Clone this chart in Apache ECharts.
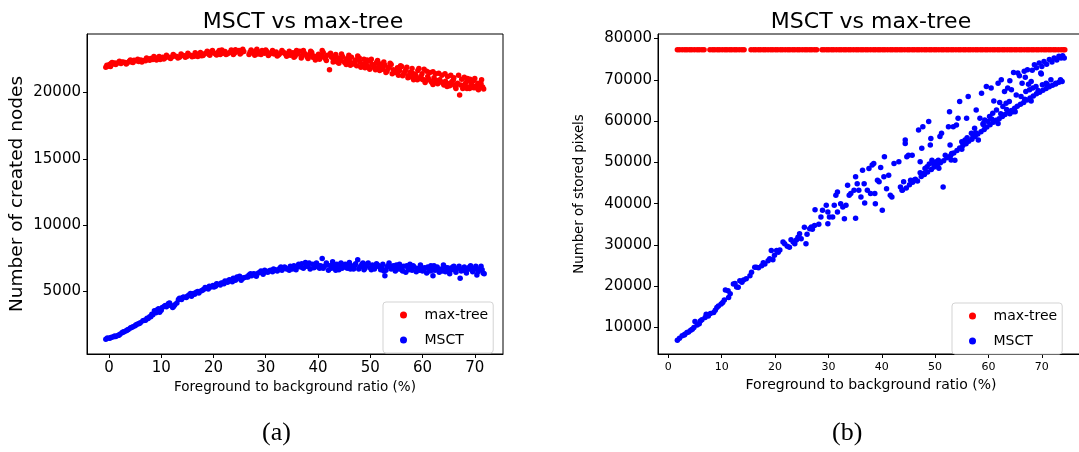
<!DOCTYPE html>
<html>
<head>
<meta charset="utf-8">
<title>MSCT vs max-tree</title>
<script src="https://cdn.jsdelivr.net/npm/echarts@6/dist/echarts.min.js"></script>
<style>
  html, body { margin: 0; padding: 0; overflow: hidden; background: #fff; }
  #chart { width: 1100px; height: 452px; }
</style>
</head>
<body>
<div id="chart"></div>
<script>
// (a) number of created nodes, [ratio %, nodes]
const maxTreeNodes = [
  [-0.6,21900],[-0.4,22050],[-0.2,21980],[0.1,22100],[0.4,22180],[0.8,22150],[1.1,22220],[1.5,22200],[1.9,22250],[2.3,22180],
  [2.7,22300],[3.1,22260],[3.5,22220],[3.9,22350],[4.3,22300],[4.8,22420],[5.2,22380],[5.7,22330],[6.1,22450],[6.6,22400],
  [7.0,22380],[7.5,22500],[8.0,22560],[8.4,22480],[8.9,22600],[9.3,22550],[9.8,22480],[10.3,22640],[10.7,22600],[11.2,22700],
  [11.6,22620],[12.1,22680],[12.6,22750],[13.0,22700],[13.5,22650],[14.0,22800],[14.4,22760],[14.9,22700],[15.4,22820],[15.8,22780],
  [16.3,22720],[16.8,22880],[17.2,22820],[17.7,22760],[18.2,22900],[18.6,22960],[19.1,22880],[19.5,23050],[20.0,22980],[20.4,22900],
  [20.9,23020],[21.3,22860],[21.8,22950],[22.2,23080],[22.7,22920],[23.1,23000],[23.6,23120],[24.0,22950],[24.5,23060],[24.9,23150],
  [25.3,22980],[25.8,23080],[26.8,22850],[27.2,23200],[27.6,22950],[28.0,23100],[28.5,22900],[28.9,23050],[29.3,23150],[29.8,22950],
  [30.2,23080],[30.7,22880],[31.1,23000],[31.6,22900],[32.0,23050],[32.5,22830],[32.9,22960],[33.4,23020],[33.8,22880],[34.3,22950],
  [34.7,22800],[35.2,22980],[35.6,22720],[36.1,22900],[36.5,23100],[37.0,22780],[37.4,22950],[37.9,22680],[38.3,22850],[38.8,23000],
  [39.2,22750],[39.7,22600],[40.1,22880],[40.6,22700],[41.0,23000],[41.4,22550],[41.8,22800],[42.2,21700],[42.6,22650],[43.0,22450],
  [43.4,22850],[43.9,22600],[44.3,22400],[44.7,22700],[45.1,22250],[45.6,22550],[46.0,22350],[46.4,22650],[46.8,22150],[47.2,22450],
  [47.6,22750],[48.0,22300],[48.4,22050],[48.8,22500],[49.2,22200],[49.6,21950],[50.0,22350],[50.4,22100],[50.8,21850],[51.2,22250],
  [51.6,21950],[52.0,22150],[52.4,21750],[52.8,22050],[53.2,21600],[53.6,21900],[54.0,22100],[54.4,21700],[54.8,21500],[55.2,21850],
  [55.6,21650],[56.0,21950],[56.4,21400],[56.8,21700],[57.2,21100],[57.6,21500],[58.0,21800],[58.3,20950],[58.7,21300],[59.1,21650],
  [59.5,21050],[59.9,21400],[60.3,21750],[60.6,20900],[61.0,21200],[61.4,21500],[61.8,20750],[62.2,21100],[62.5,21400],[62.9,20650],
  [63.3,20950],[63.7,21300],[64.1,20550],[64.4,20850],[64.8,21200],[65.2,20500],[65.6,20800],[66.0,21100],[66.3,20400],[66.7,20700],
  [67.1,19800],[67.5,21000],[67.9,20450],[68.3,20750],[68.6,21050],[69.0,20300],[69.4,20600],[69.8,20900],[70.2,20350],[70.6,20700],
  [71.0,20450],[71.3,20950],[71.7,20250],
  [50.6,22000],[52.2,21900],[53.4,21800],[55.0,21650],[56.6,21550],[58.5,21350],[59.7,21200],[61.2,21000],[62.7,20900],[64.6,20700],
  [66.5,20600],[68.1,20600],[69.6,20500],[70.8,20550],[57.9,21200],[60.0,21000],[63.5,20800],[65.9,20950],[67.7,20300],[69.2,20800],
  [43.7,22300],[45.3,22400],[47.0,22300],[48.7,22150],[41.2,22650],[39.0,22650],
  [0.3,21950],[0.6,22250],[1.3,22100],[2.0,22350],[2.5,22280],[3.3,22150],[4.1,22450],[4.6,22250],[5.5,22500],[6.3,22300],
  [7.2,22600],[7.8,22420],[8.6,22700],[9.1,22450],[9.6,22700],[10.5,22520],[11.0,22800],[11.8,22560],[12.3,22850],[13.2,22600],
  [13.8,22900],[14.6,22650],[15.1,22950],[15.9,22680],[16.5,22980],[17.0,22700],[17.5,23000],[18.0,22780],[18.8,23100],[19.3,22800],
  [19.8,23150],[20.6,22820],[21.1,23150],[21.6,23200],[22.4,22850],[23.4,23200],[23.8,22850],[24.2,23220],[25.1,22900],[25.6,23250],
  [27.0,23050],[27.9,22800],[28.3,23250],[29.1,22850],[30.0,23200],[30.5,22780],[31.3,23150],[32.2,22750],[33.1,23150],[34.0,22720],
  [34.5,23100],[35.4,22650],[35.9,23150],[36.8,22600],[37.2,23150],[38.1,22550],[38.6,23100],[39.5,22450],[40.3,22500],[40.8,23150],
  [41.6,22400],[42.4,22950],[42.9,22300],[43.2,22700],[44.0,22200],[44.5,22900],[45.4,22100],[45.9,22800],[46.2,22050],[47.4,22000],
  [47.9,22600],[48.2,21900],[49.0,21850],[49.4,22450],[49.9,21750],[50.2,22500],[51.0,21700],[51.4,22400],[51.8,21650],[52.6,22300],
  [53.0,21500],[53.8,22200],[54.2,21400],[55.4,21300],[55.8,22000],[56.2,21250],[57.0,21900],[57.4,21150],[58.1,21450],[58.9,21100],
  [59.3,21800],[60.1,20950],[60.8,21600],[61.6,20850],[62.0,21550],[62.4,20750],[63.1,21450],[63.9,20700],[64.3,21400],[65.0,20650],
  [65.4,21300],[66.1,20550],[66.9,21300],[67.3,20550],[68.0,21150],[68.8,20400],[69.1,21000],[69.8,20350],[70.0,21050],[70.4,20500],
  [71.2,20650],[71.5,20400],[70.7,20200],[68.5,20300],[66.4,20300],[64.7,20450],[62.0,20600],[60.5,20750],[59.0,20950],[57.3,21250]
];
const msctNodes = [
  [-0.6,1420],[-0.3,1500],[0.1,1480],[0.5,1560],[0.9,1600],[1.3,1620],[1.7,1700],[2.1,1780],[2.5,1900],[2.9,1980],
  [3.3,2050],[3.7,2150],[4.1,2250],[4.6,2350],[5.0,2420],[5.5,2550],[6.0,2650],[6.5,2800],[7.0,2850],[7.5,2980],
  [8.0,3100],[8.4,3250],[8.7,3550],[9.0,3400],[9.3,3650],[9.7,3450],[10.2,3800],[10.6,3900],[11.0,3850],[11.4,4100],
  [11.8,3950],[12.2,3800],[12.6,4000],[13.0,4150],[13.5,4500],[13.9,4400],[14.3,4600],[14.8,4550],[15.3,4750],[15.8,4650],
  [16.2,4850],[16.7,4950],[17.2,4900],[17.6,5050],[18.1,5150],[18.6,5250],[19.0,5200],[19.5,5350],[19.9,5450],[20.4,5400],
  [20.8,5550],[21.3,5500],[21.8,5650],[22.2,5800],[22.7,5700],[23.1,5900],[23.6,5750],[24.0,5950],[24.5,6100],[24.9,6000],
  [25.3,5850],[25.8,6050],[26.3,6100],[26.8,6250],[27.3,6200],[27.7,6350],[28.2,6150],[28.6,6400],[29.1,6550],[29.5,6300],
  [30.0,6500],[30.4,6450],[30.9,6600],[31.3,6500],[31.8,6650],[32.2,6550],[32.7,6750],[33.1,6600],[33.6,6850],[34.0,6700],
  [34.5,6600],[34.9,6800],[35.4,6950],[35.8,6650],[36.3,7050],[36.7,6850],[37.2,6750],[37.6,7200],[38.1,6900],[38.5,6700],
  [39.0,7050],[39.4,6850],[39.9,7000],[40.3,6750],[40.8,7500],[41.2,6900],[41.6,7150],[42.0,6600],[42.4,6950],[42.8,7250],
  [43.2,6800],[43.6,7050],[44.0,6650],[44.4,7150],[44.8,6900],[45.2,7050],[45.6,6750],[46.0,7200],[46.4,6950],[46.8,6700],
  [47.2,7100],[47.6,7400],[48.0,6850],[48.4,7050],[48.8,6650],[49.2,6950],[49.6,7150],[50.0,6800],[50.4,7000],[50.8,6700],
  [51.2,7100],[51.6,6900],[52.0,6650],[52.4,7050],[52.8,6200],[53.2,6850],[53.6,7150],[54.0,6700],[54.4,6950],[54.8,6550],
  [55.2,6850],[55.6,7050],[56.0,6650],[56.4,6900],[56.8,6450],[57.2,6800],[57.6,7050],[58.0,6600],[58.4,6850],[58.8,6500],
  [59.2,6750],[59.6,7000],[60.0,6550],[60.4,6800],[60.8,6400],[61.2,6700],[61.6,6950],[62.0,6200],[62.4,6600],[62.8,6850],
  [63.2,6450],[63.6,6700],[64.0,7000],[64.4,6500],[64.8,6800],[65.2,6350],[65.6,6650],[66.0,6900],[66.4,6450],[66.8,6750],
  [67.2,6000],[67.6,6600],[68.0,6850],[68.4,6400],[68.8,6700],[69.2,6950],[69.6,6500],[70.0,6750],[70.4,6250],[70.8,6600],
  [71.2,6900],[71.6,6400],
  [45.0,6850],[48.2,6900],[50.6,6850],[53.0,6600],[55.4,6700],[57.4,6650],[59.4,6600],[61.4,6550],[63.4,6600],[65.4,6750],
  [67.4,6550],[69.4,6650],[71.0,6700],[43.8,6900],[46.6,6850],
  [0.3,1520],[1.1,1650],[1.9,1720],[2.7,1950],[3.5,2100],[4.3,2300],[5.2,2500],[5.8,2600],[6.8,2850],[7.3,3000],
  [7.8,3100],[8.2,3300],[8.9,3500],[9.5,3700],[10.0,3600],[10.8,3950],[11.6,4150],[12.4,3900],[13.3,4400],[14.1,4550],
  [15.0,4650],[15.6,4850],[16.4,4800],[17.0,5000],[17.9,5100],[18.4,5300],[19.2,5400],[20.1,5350],[20.6,5600],[21.5,5650],
  [22.0,5600],[22.9,5850],[23.8,6000],[24.2,5850],[25.0,6150],[25.6,6000],[26.6,6100],[27.1,6350],[28.0,6300],[28.9,6450],
  [29.8,6600],[30.6,6550],[31.5,6700],[32.4,6650],[32.9,6850],[33.8,6750],[34.7,6900],[35.1,6700],[36.0,6850],[36.9,7100],
  [37.8,6900],[38.3,7150],[39.2,6800],[39.7,7150],[40.5,6950],[41.0,6750],[41.8,7000],[42.6,6750],[43.0,7050],[43.4,6600],
  [44.2,6950],[44.6,6750],[45.4,6950],[45.8,7050],[46.2,6700],[47.0,6950],[47.8,6700],[48.6,7150],[49.0,6750],[49.4,7050],
  [50.2,6650],[51.0,6850],[51.4,7000],[52.2,6800],[52.6,6550],[53.4,6950],[54.2,6850],[54.6,6700],[55.0,7000],[55.8,6800],
  [56.2,6550],[57.0,6950],[57.8,6750],[58.2,6950],[59.0,6700],[59.8,6800],[60.2,6650],[61.0,6850],[61.8,6600],[62.2,6950],
  [63.0,6700],[63.8,6550],[64.2,6850],[65.0,6600],[65.8,6850],[66.2,6650],[67.0,6900],[67.8,6700],[68.2,6550],[69.0,6850],
  [69.8,6700],[70.2,6900],[70.6,6500],[71.4,6650],[71.8,6350]
];

// (b) number of stored pixels, [ratio %, pixels]
const maxTreePixels = [
  [1.7,77300],[2.1,77300],[2.6,77300],[3.1,77300],[3.5,77300],[4.0,77300],[4.4,77300],[4.9,77300],[5.4,77300],[5.8,77300],
  [6.3,77300],[6.7,77300],[7.8,77300],[8.3,77300],[8.7,77300],[9.2,77300],[9.6,77300],[10.1,77300],[10.6,77300],[11.0,77300],
  [11.5,77300],[11.9,77300],[12.4,77300],[12.8,77300],[13.3,77300],[13.8,77300],[14.2,77300],[15.5,77300],[16.0,77300],[16.4,77300],
  [16.9,77300],[17.3,77300],[17.8,77300],[18.2,77300],[18.7,77300],[19.2,77300],[19.6,77300],[20.1,77300],[20.5,77300],[21.0,77300],
  [21.4,77300],[21.9,77300],[22.4,77300],[22.8,77300],[23.3,77300],[23.7,77300],[24.2,77300],[24.6,77300],[25.1,77300],[25.6,77300],
  [26.0,77300],[26.5,77300],[26.9,77300],[27.4,77300],[27.8,77300],[28.8,77300],[29.2,77300],[29.7,77300],[30.1,77300],[30.6,77300],
  [31.0,77300],[31.5,77300],[32.0,77300],[32.4,77300],[32.9,77300],[33.3,77300],[33.8,77300],[34.2,77300],[34.7,77300],[35.2,77300],
  [35.6,77300],[36.1,77300],[36.5,77300],[37.0,77300],[37.4,77300],[37.9,77300],[38.4,77300],[38.8,77300],[39.3,77300],[39.7,77300],
  [40.2,77300],[40.6,77300],[41.1,77300],[41.6,77300],[42.0,77300],[42.5,77300],[42.9,77300],[43.4,77300],[43.8,77300],[44.3,77300],
  [44.8,77300],[45.2,77300],[45.7,77300],[46.1,77300],[46.6,77300],[47.0,77300],[47.5,77300],[48.0,77300],[48.4,77300],[48.9,77300],
  [49.3,77300],[49.8,77300],[50.2,77300],[50.7,77300],[51.2,77300],[51.6,77300],[52.1,77300],[52.5,77300],[53.0,77300],[53.4,77300],
  [53.9,77300],[54.4,77300],[54.8,77300],[55.3,77300],[55.7,77300],[56.2,77300],[56.6,77300],[57.1,77300],[57.6,77300],[58.0,77300],
  [58.5,77300],[58.9,77300],[59.4,77300],[59.8,77300],[60.3,77300],[60.8,77300],[61.2,77300],[61.7,77300],[62.1,77300],[62.6,77300],
  [63.0,77300],[63.5,77300],[64.0,77300],[64.4,77300],[64.9,77300],[65.3,77300],[65.8,77300],[66.2,77300],[66.7,77300],[67.2,77300],
  [67.6,77300],[68.1,77300],[68.5,77300],[69.0,77300],[69.4,77300],[69.9,77300],[70.4,77300],[70.8,77300],[71.3,77300],[71.7,77300],
  [72.2,77300],[72.6,77300],[73.1,77300],[73.6,77300],[74.0,77300],[74.3,77300]
];
const msctPixels = [
  [1.7,6900],[2.1,7400],[2.6,8000],[3.1,8400],[3.5,8800],[4.2,9350],[4.8,10000],[5.0,11450],[5.4,10650],[5.8,10950],
  [6.0,11600],[6.9,12450],[7.1,13250],[7.9,13400],[8.5,13650],[9.1,14850],[9.4,15250],[9.9,15700],[10.5,16650],[10.7,19100],
  [11.2,18900],[11.3,17300],[12.2,20550],[12.5,20700],[13.1,19750],[13.4,21350],[14.1,21500],[15.3,22550],[15.6,23400],[16.2,24600],
  [16.5,24600],[17.5,25000],[18.1,25400],[18.7,26200],[19.0,26650],[19.3,28650],[19.6,26400],[20.3,28650],[20.6,28250],[21.5,30700],
  [21.8,30300],[22.7,29450],[23.0,31250],[23.7,30300],[24.3,31900],[24.6,32700],[24.9,31500],[25.5,34300],[25.8,30300],[26.5,33950],
  [26.8,34350],[27.4,34750],[27.5,38550],[28.6,36750],[28.9,38400],[29.6,39600],[29.9,35150],[29.9,38000],[30.2,36750],[30.8,36750],
  [31.1,39600],[31.4,42050],[31.7,42850],[31.7,38000],[32.3,40000],[32.7,39200],[33.0,36350],[33.3,39600],[33.6,44450],[33.9,42050],
  [34.2,42450],[34.8,43250],[35.1,46500],[35.1,36500],[35.4,44850],[35.7,43250],[36.1,41650],[36.4,48100],[36.7,44850],[36.8,40150],
  [37.3,43250],[37.6,48500],[37.9,42450],[38.2,49350],[38.5,49750],[38.7,42450],[38.8,40000],[39.2,45700],[39.5,45300],[39.8,48750],
  [40.1,38400],[40.4,46500],[40.5,51350],[40.9,43650],[41.3,46900],[41.6,42050],[41.9,41650],[42.3,49750],[43.2,50150],[43.5,44050],
  [43.8,43250],[44.1,45300],[44.4,55400],[44.4,54600],[44.7,51350],[45.0,51750],[45.4,45700],[45.7,51750],[46.0,45700],[46.9,57850],
  [47.2,50150],[47.5,53400],[47.7,58650],[47.8,47300],[48.1,48500],[48.5,48950],[48.8,59900],[49.1,54200],[49.2,55800],[49.4,50550],
  [49.7,49750],[50.0,49350],[50.2,50150],[50.6,50550],[50.9,56250],[51.2,57050],[51.5,44050],[51.9,51750],[52.5,58650],[52.7,62300],
  [52.8,54200],[53.1,52150],[53.4,58650],[53.7,50550],[54.0,59050],[54.3,60700],[54.6,64750],[55.0,55000],[55.3,54600],[55.6,55400],
  [55.9,60700],[56.2,65950],[56.8,57050],[57.1,56250],[57.4,58250],[57.7,62700],[58.1,55400],[58.4,60700],[58.7,66750],[59.0,59450],
  [59.3,60300],[59.6,68400],[59.9,59900],[60.2,61100],[60.5,68000],[60.8,61900],[61.0,64900],[61.5,62700],[61.8,69200],[62.1,64500],
  [62.4,70000],[62.7,63550],[63.0,67200],[63.3,64350],[63.6,68000],[63.9,64750],[64.3,67600],[64.6,62300],[64.7,71800],[65.2,66350],
  [65.5,71650],[66.1,65950],[66.3,69200],[66.7,72050],[67.0,67200],[67.3,72450],[67.7,67600],[68.0,69600],[68.3,68000],[68.6,73650],
  [68.9,68400],[69.5,74050],[69.8,71650],[70.1,68800],[70.4,74450],[70.8,69200],[71.4,74900],[71.7,70000],[72.3,75300],[72.6,69200],
  [73.2,75700],[73.5,70000],[73.9,75850],[74.2,75300],
  [43.9,43300],[44.6,43800],[45.2,44600],[45.8,45200],[46.3,45900],[46.7,45500],[47.4,46600],[48.0,47100],[48.6,47700],[49.3,48300],
  [49.8,48900],[50.4,49300],[51.0,49900],[51.6,50400],[52.2,51100],[52.9,51600],[53.5,52300],[54.1,52900],[54.6,53500],[55.2,54100],
  [55.8,54500],[56.3,55100],[56.9,55600],[57.5,56300],[58.0,56900],[58.6,57400],[59.2,58000],[59.7,58600],[60.3,59100],[60.9,59700],
  [61.4,60200],[62.0,60600],[62.6,61100],[63.1,61600],[63.7,62200],[64.3,62600],[64.9,63100],[65.4,63600],[66.0,64100],[66.6,64500],
  [67.2,65100],[67.8,65600],[68.4,66100],[69.0,66600],[69.6,67000],[70.2,67500],[70.8,67900],[71.4,68300],[72.0,68700],[72.6,69000],
  [73.2,69400],[73.8,69600],
  [56.0,56000],[57.6,57200],[59.0,59200],[60.6,60500],[62.3,61800],[63.4,62800],[65.0,62300],[66.8,65300],[68.0,64900],[69.3,67400],
  [71.0,68900],[55.0,53200],[53.0,50600],[50.7,48600],[48.9,49600],[47.2,47500],[61.8,59400],[64.0,61800],
  [64.0,69800],[65.8,71000],[66.9,70600],[68.2,72300],[69.0,72900],[70.0,73200],[70.9,73800],[71.9,74300],[72.8,74800],[73.6,75300],
  [67.5,68900],[69.9,71400],
  [3.0,8200],[3.8,8900],[4.5,9600],[6.3,11900],[7.5,12800],[8.8,14200],[10.2,16100],[11.6,18200],[12.8,19800],[13.8,21000],
  [14.6,21800],[16.9,24500],[17.8,25700],[19.9,27500],[20.9,28800],[22.3,29700],[23.4,30700],[24.0,31200],[26.0,32600],[27.0,33800],
  [28.2,35000]
];

// tick labels
const ratioTicks = [0, 10, 20, 30, 40, 50, 60, 70];
const nodeTicks = [5000, 10000, 15000, 20000];
const pixelTicks = [10000, 20000, 30000, 40000, 50000, 60000, 70000, 80000];

const FONT = 'DejaVu Sans';
const RED = '#ff0000';
const BLUE = '#0000ff';

// only label the round ticks (min/max are not round)
const onlyTicks = (list) => (v) => (list.indexOf(Math.round(v)) >= 0 && Math.abs(v - Math.round(v)) < 1e-6 ? String(Math.round(v)) : '');

const axisBase = {
    splitLine: { show: false },
    axisLine: { show: true, onZero: false, lineStyle: { color: '#000', width: 1 } },
    nameTextStyle: { color: '#000', fontFamily: FONT }
};
const ticks = (list) => ({ show: true, length: 4, customValues: list, lineStyle: { color: '#000', width: 1 } });
const labels = (list, size, margin) => ({
    color: '#000', fontFamily: FONT, fontSize: size, margin: margin,
    customValues: list, formatter: onlyTicks(list)
});

const scatter = (name, data, color, idx) => ({
    name: name,
    type: 'scatter',
    xAxisIndex: idx,
    yAxisIndex: idx,
    data: data,
    symbol: 'circle',
    symbolSize: 5.5,
    itemStyle: { color: color, opacity: 1 },
    emphasis: { disabled: true },
    animation: false
});

const legendBase = {
    orient: 'vertical',
    icon: 'circle',
    itemWidth: 32,
    itemHeight: 7,
    itemGap: 11,
    padding: [6, 5, 6, 17],
    borderColor: '#d3d3d3',
    borderWidth: 1,
    borderRadius: 3,
    backgroundColor: '#fff',
    textStyle: { fontFamily: FONT, fontSize: 14, color: '#000' },
    data: ['max-tree', 'MSCT']
};

const titleStyle = { fontFamily: FONT, fontSize: 22, fontWeight: 'normal', color: '#000' };

const option = {
    backgroundColor: '#fff',
    animation: false,
    title: [
        { text: 'MSCT vs max-tree', left: 298, top: 6, textAlign: 'center', textStyle: titleStyle },
        { text: 'MSCT vs max-tree', left: 866, top: 6, textAlign: 'center', textStyle: titleStyle }
    ],
    legend: [
        Object.assign({}, legendBase, { left: 383, top: 302 }),
        Object.assign({}, legendBase, { left: 952, top: 303 })
    ],
    grid: [
        { left: 87, top: 34, width: 416, height: 320, show: true, borderColor: '#000', borderWidth: 1 },
        { left: 658, top: 34, width: 426, height: 320, show: true, borderColor: '#000', borderWidth: 1 }
    ],
    xAxis: [
        Object.assign({}, axisBase, {
            gridIndex: 0, type: 'value', min: -4.2, max: 75.4, splitNumber: 8,
            name: 'Foreground to background ratio (%)', nameLocation: 'middle', nameGap: 26,
            nameTextStyle: { color: '#000', fontFamily: FONT, fontSize: 13.5 },
            axisTick: ticks(ratioTicks),
            axisLabel: labels(ratioTicks, 15, 7)
        }),
        Object.assign({}, axisBase, {
            gridIndex: 1, type: 'value', min: -1.93, max: 77.9, splitNumber: 8,
            name: 'Foreground to background ratio (%)', nameLocation: 'middle', nameGap: 24,
            nameTextStyle: { color: '#000', fontFamily: FONT, fontSize: 14 },
            axisTick: ticks(ratioTicks),
            axisLabel: labels(ratioTicks, 11, 8)
        })
    ],
    yAxis: [
        Object.assign({}, axisBase, {
            gridIndex: 0, type: 'value', min: 300, max: 24400, splitNumber: 5,
            name: 'Number of created nodes', nameLocation: 'middle', nameGap: 60,
            nameTextStyle: { color: '#000', fontFamily: FONT, fontSize: 18.5 },
            axisTick: ticks(nodeTicks),
            axisLabel: labels(nodeTicks, 15, 6)
        }),
        Object.assign({}, axisBase, {
            gridIndex: 1, type: 'value', min: 3600, max: 81100, splitNumber: 8,
            name: 'Number of stored pixels', nameLocation: 'middle', nameGap: 72,
            nameTextStyle: { color: '#000', fontFamily: FONT, fontSize: 13.3 },
            axisTick: ticks(pixelTicks),
            axisLabel: labels(pixelTicks, 15, 6)
        })
    ],
    graphic: [
        { type: 'text', left: 262, top: 420, style: { text: '(a)', font: '26px "Liberation Serif", serif', fill: '#000' } },
        { type: 'text', left: 832, top: 420, style: { text: '(b)', font: '26px "Liberation Serif", serif', fill: '#000' } }
    ],
    series: [
        scatter('max-tree', maxTreeNodes, RED, 0),
        scatter('MSCT', msctNodes, BLUE, 0),
        scatter('max-tree', maxTreePixels, RED, 1),
        scatter('MSCT', msctPixels, BLUE, 1)
    ]
};

const chart = echarts.init(document.getElementById('chart'), null, { renderer: 'canvas' });
chart.setOption(option);
</script>
</body>
</html>
